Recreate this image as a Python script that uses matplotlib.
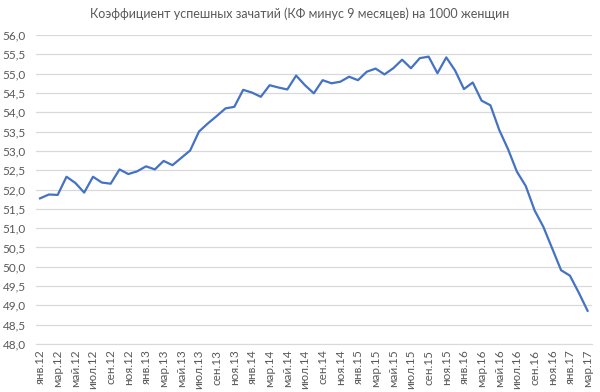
import matplotlib
matplotlib.use("Agg")
import matplotlib.pyplot as plt
import numpy as np

plt.rcParams['font.family'] = ['Lato', 'DejaVu Sans']

months = ['янв', 'фев', 'мар', 'апр', 'май', 'июн',
          'июл', 'авг', 'сен', 'окт', 'ноя', 'дек']
years = ['12', '13', '14', '15', '16', '17']
labels = [m + '.' + y for y in years for m in months][:63]

values = [51.77, 51.87, 51.86, 52.33, 52.17, 51.92, 52.33, 52.18, 52.15, 52.52,
          52.40, 52.47, 52.60, 52.52, 52.74, 52.63, 52.82, 53.01, 53.50, 53.71,
          53.90, 54.10, 54.14, 54.58, 54.51, 54.40, 54.70, 54.64, 54.59, 54.95,
          54.70, 54.49, 54.83, 54.75, 54.79, 54.92, 54.83, 55.05, 55.13, 54.98,
          55.14, 55.36, 55.14, 55.40, 55.44, 55.01, 55.42, 55.08, 54.60, 54.77,
          54.30, 54.18, 53.54, 53.04, 52.46, 52.09, 51.46, 51.03, 50.47, 49.91,
          49.77, 49.33, 48.86]

gray = '#595959'
fig = plt.figure(figsize=(6, 3.92), dpi=100)
ax = fig.add_axes([35.6 / 600, 1 - 344 / 392, (592 - 35.6) / 600, (344 - 35) / 392])

x = np.arange(len(values))
ax.plot(x, values, color='#4472C4', lw=1.6, solid_joinstyle='round')

ax.set_xlim(-0.5, len(values) - 0.5)
ax.set_ylim(48, 56)
ax.set_yticks(np.arange(48, 56.01, 0.5))
ax.set_yticklabels([('%.1f' % v).replace('.', ',') for v in np.arange(48, 56.01, 0.5)])
ax.set_xticks(x[::2])
ax.set_xticklabels(labels[::2], rotation=90)

ax.grid(axis='y', color='#d9d9d9', lw=0.9)
ax.set_axisbelow(True)
for s in ['top', 'right', 'left']:
    ax.spines[s].set_visible(False)
ax.spines['bottom'].set_color('#d9d9d9')
ax.tick_params(length=0, colors=gray, labelsize=8.5)
ax.tick_params(axis='y', pad=7)
ax.tick_params(axis='x', pad=4)

fig.text(0.5, 1 - 14 / 392, 'Коэффициент успешных зачатий (КФ минус 9 месяцев) на 1000 женщин',
         ha='center', va='center', color=gray, fontsize=9.0)

fig.savefig('out.png', dpi=100)
